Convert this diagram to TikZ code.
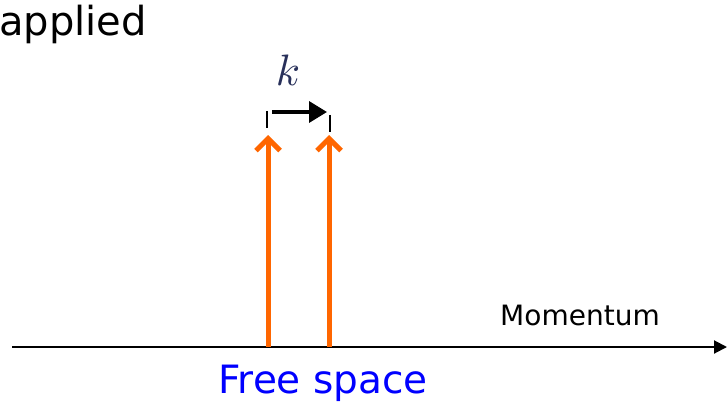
\documentclass[tikz,border=0pt]{standalone}
\usepackage{fontspec}
\setmainfont{DejaVu Sans}
\usepackage{graphicx}
\usetikzlibrary{arrows.meta}
\definecolor{orng}{RGB}{255,102,0}
\definecolor{kcol}{RGB}{40,48,90}
\tikzset{
  axisline/.style={line width=2pt,-{Triangle[length=13pt,width=13pt]}},
  peak/.style={orng,line width=5pt,-{Straight Barb[length=12pt,width=24pt,line width=5pt]}},
  tickmark/.style={line width=2pt},
  shiftarrow/.style={line width=3.5pt,-{Triangle[length=18pt,width=21pt]}},
  lbl/.style={inner sep=0pt,anchor=base}
}
\begin{document}
\begin{tikzpicture}[x=1pt,y=1pt]
\useasboundingbox (0,0) rectangle (727,405);
% text
\node[inner sep=0pt,anchor=base west] (applied) at (-1,369) {\fontsize{40}{48}\selectfont applied};
\node[lbl] (mom) at (580,80) {\fontsize{28}{34}\selectfont Momentum};
\node[lbl,text=blue] (free) at (323,12) {\fontsize{39}{46}\selectfont Free space};
\node[inner sep=0pt,text=kcol] (k) at (288,335) {\scalebox{4.4}{$k$}};
% axis
\coordinate (axL) at (12,58);
\coordinate (axR) at (727,58);
\draw[axisline] (axL) -- (axR);
% peaks
\coordinate (b1) at (268,58);
\coordinate (t1) at (268,270);
\coordinate (b2) at (329,58);
\coordinate (t2) at (329,270);
\draw[peak] (b1) -- (t1);
\draw[peak] (b2) -- (t2);
% ticks
\coordinate (tk1a) at (267,294);
\coordinate (tk1b) at (267,277);
\coordinate (tk2a) at (330,290);
\coordinate (tk2b) at (330,273);
\draw[tickmark] (tk1a) -- (tk1b);
\draw[tickmark] (tk2a) -- (tk2b);
% shift arrow
\coordinate (sa) at (272,293);
\coordinate (sb) at (327,293);
\draw[shiftarrow] (sa) -- (sb);
\end{tikzpicture}
\end{document}
